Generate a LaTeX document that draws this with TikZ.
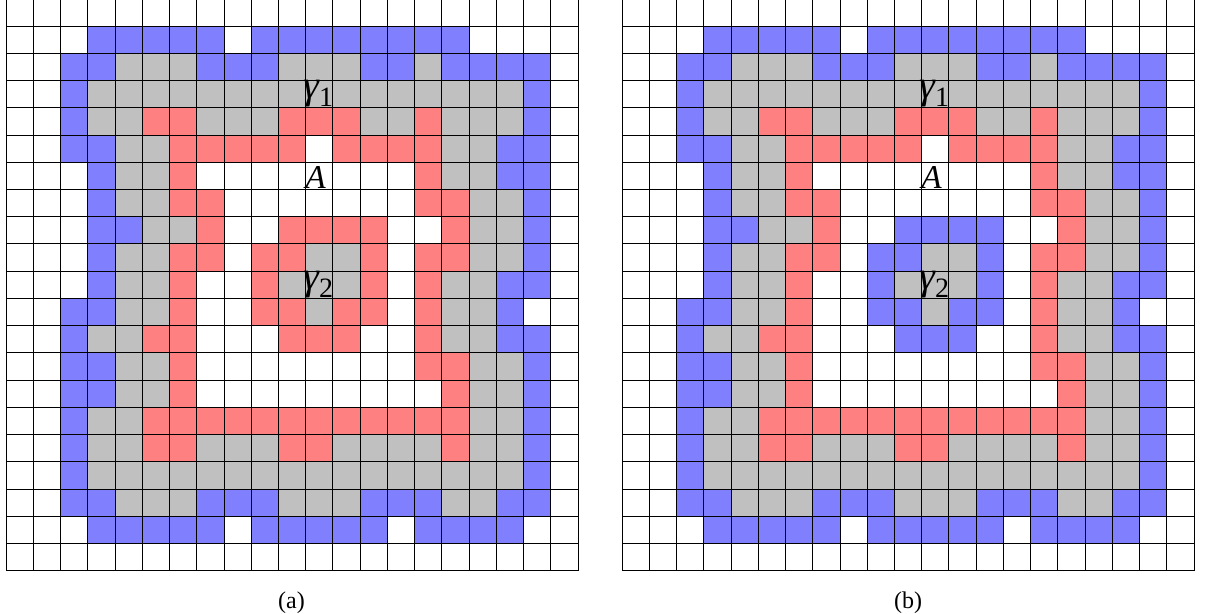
\documentclass[tikz,border=0pt]{standalone}
\usepackage{fontspec}
\setmainfont{Liberation Serif}
\definecolor{cB}{HTML}{8080FF}
\definecolor{cG}{HTML}{C0C0C0}
\definecolor{cR}{HTML}{FF8080}
\newcount\cellcnt
\def\cs{27.24}
\def\cya{-1.3}
\def\cellrow#1#2#3{\cellcnt=0 \def\cxo{#1}\def\cri{#2}\cellloop#3\relax}
\def\cellloop#1{\ifx\relax#1\else
  \ifx W#1\else\fill[c#1] ({\cxo+\the\cellcnt*\cs},{\cya+\cri*\cs}) rectangle ++(\cs,\cs);\fi
  \advance\cellcnt by 1 \expandafter\cellloop\fi}
\newcommand\gammalbl[1]{{\fontsize{30}{30}\selectfont\itshape γ}\raisebox{-6pt}{\fontsize{21}{21}\selectfont #1}}
\def\panelcommon#1{%
  \cellrow{#1}{1}{WWWBBBBBWBBBBBBBBWWWW}
  \cellrow{#1}{2}{WWBBGGGBBBGGGBBGBBBBW}
  \cellrow{#1}{3}{WWBGGGGGGGGGGGGGGGGBW}
  \cellrow{#1}{4}{WWBGGRRGGGRRRGGRGGGBW}
  \cellrow{#1}{5}{WWBBGGRRRRRWRRRRGGBBW}
  \cellrow{#1}{6}{WWWBGGRWWWWWWWWRGGBBW}
  \cellrow{#1}{7}{WWWBGGRRWWWWWWWRRGGBW}
  \cellrow{#1}{13}{WWBBGGRWWWWWWWWRRGGBW}
  \cellrow{#1}{14}{WWBBGGRWWWWWWWWWRGGBW}
  \cellrow{#1}{15}{WWBGGRRRRRRRRRRRRGGBW}
  \cellrow{#1}{16}{WWBGGRRGGGRRGGGGRGGBW}
  \cellrow{#1}{17}{WWBGGGGGGGGGGGGGGGGBW}
  \cellrow{#1}{18}{WWBBGGGBBBGGGBBBGGBBW}
  \cellrow{#1}{19}{WWWBBBBBWBBBBBWBBBBWW}
}
\def\gridlines#1{%
  \foreach \i in {0,...,21}{
    \draw[gridline] ({#1+\i*\cs},\cya) -- ({#1+\i*\cs},{\cya+21*\cs});
    \draw[gridline] (#1,{\cya+\i*\cs}) -- ({#1+21*\cs},{\cya+\i*\cs});
  }}
\begin{document}
\begin{tikzpicture}[x=0.75pt,y=-0.75pt,
  gridline/.style={draw=black,line width=0.6pt},
  lbl/.style={inner sep=0pt,anchor=base west},
  alabel/.style={inner sep=0pt,anchor=base west,font=\fontsize{25}{25}\selectfont\itshape},
  captext/.style={inner sep=0pt,anchor=base,font=\fontsize{18}{18}\selectfont}]
\useasboundingbox (0,0) rectangle (1207,614);
% panel (a)
\panelcommon{6}
\cellrow{6}{8}{WWWBBGGRWWRRRRWWRGGBW}
\cellrow{6}{9}{WWWBGGRRWRRGGRWRRGGBW}
\cellrow{6}{10}{WWWBGGRWWRGGGRWRGGBBW}
\cellrow{6}{11}{WWBBGGRWWRRGRRWRGGBWW}
\cellrow{6}{12}{WWBGGRRWWWRRRWWRGGBBW}
\gridlines{6}
% panel (b)
\panelcommon{622}
\cellrow{622}{8}{WWWBBGGRWWBBBBWWRGGBW}
\cellrow{622}{9}{WWWBGGRRWBBGGBWRRGGBW}
\cellrow{622}{10}{WWWBGGRWWBGGGBWRGGBBW}
\cellrow{622}{11}{WWBBGGRWWBBGBBWRGGBWW}
\cellrow{622}{12}{WWBGGRRWWWBBBWWRGGBBW}
\gridlines{622}
% labels
\node[lbl] (g1a) at (303,98.5) {\gammalbl{1}};
\node[alabel] (Aa) at (305,188) {A};
\node[lbl] (g2a) at (303,289.5) {\gammalbl{2}};
\node[lbl] (g1b) at (919,98.5) {\gammalbl{1}};
\node[alabel] (Ab) at (921,188) {A};
\node[lbl] (g2b) at (919,289.5) {\gammalbl{2}};
\node[captext] (capa) at (291.5,608) {(a)};
\node[captext] (capb) at (908,608) {(b)};
\end{tikzpicture}
\end{document}
